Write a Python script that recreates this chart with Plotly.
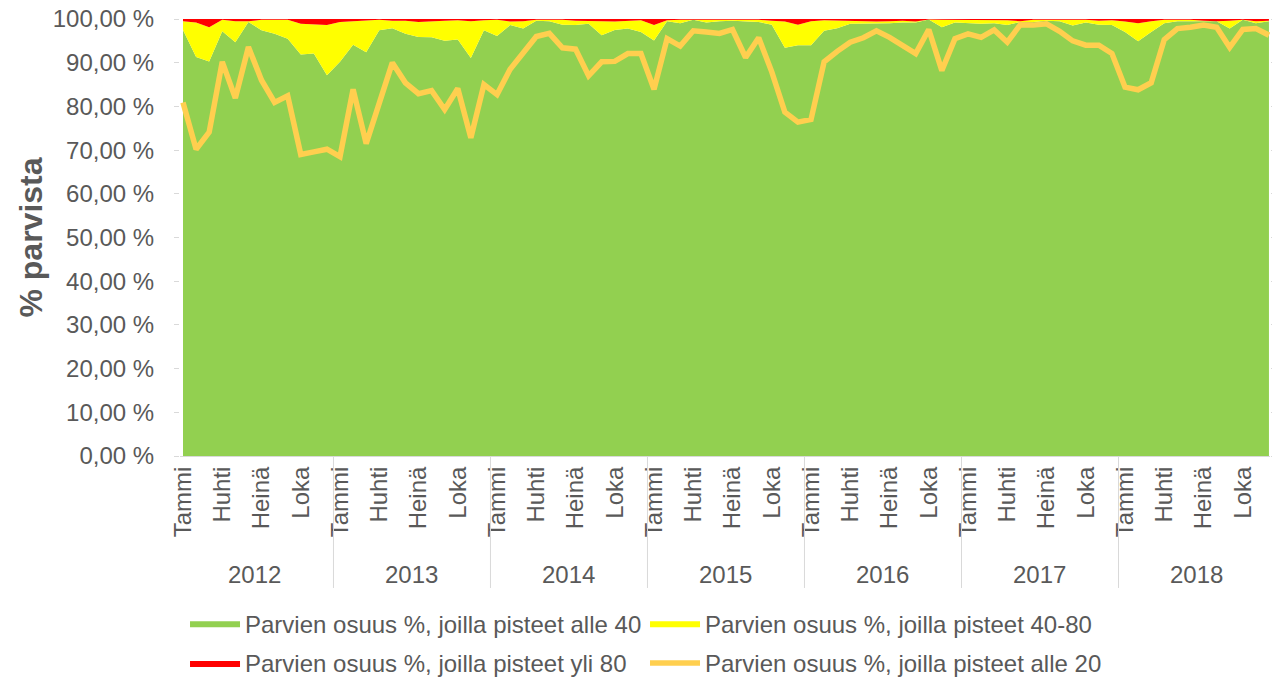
import plotly.graph_objects as go

years = [2012, 2013, 2014, 2015, 2016, 2017, 2018]
month_names = ["Tammi", "Helmi", "Maalis", "Huhti", "Touko", "Kesä",
               "Heinä", "Elo", "Syys", "Loka", "Marras", "Joulu"]
shown_months = ["Tammi", "Huhti", "Heinä", "Loka"]

categories = [f"{y} {m}" for y in years for m in month_names]

alle40 = [97.5, 91.3, 90.3, 97.2, 94.7, 99.3, 97.4, 96.6, 95.5, 91.9, 92.1, 87.1,
          90.2, 94.1, 92.4, 97.4, 97.9, 96.6, 95.9, 95.8, 95.0, 95.3, 91.1, 97.4,
          96.1, 98.6, 97.8, 99.6, 99.5, 98.7, 98.6, 98.9, 96.3, 97.5, 97.8, 97.0,
          95.1, 99.5, 99.0, 99.8, 99.2, 99.5, 99.6, 99.5, 99.3, 98.7, 93.4, 94.0,
          94.0, 97.3, 97.9, 98.9, 98.9, 98.9, 99.0, 99.2, 99.2, 99.9, 98.1, 99.2,
          99.0, 98.9, 99.0, 98.6, 99.3, 99.3, 99.6, 99.5, 98.5, 99.2, 98.7, 98.6,
          97.0, 94.9, 97.0, 99.0, 99.5, 99.5, 99.5, 99.5, 97.8, 99.8, 99.0, 99.5]

v40_80 = [2.0, 7.9, 7.8, 2.6, 4.8, 0.2, 2.4, 3.2, 4.3, 7.0, 6.6, 11.5,
          9.1, 5.4, 7.3, 2.4, 1.7, 3.0, 3.4, 3.7, 4.6, 4.4, 8.4, 2.3,
          3.7, 0.8, 1.7, 0.2, 0.3, 1.1, 1.0, 0.7, 3.2, 1.9, 1.8, 2.7,
          3.5, 0.2, 0.8, 0.0, 0.6, 0.3, 0.2, 0.3, 0.5, 0.9, 6.0, 4.7,
          5.5, 2.4, 1.7, 0.6, 0.6, 0.5, 0.5, 0.4, 0.2, 0.0, 1.7, 0.6,
          0.8, 0.8, 0.8, 1.1, 0.2, 0.5, 0.2, 0.3, 1.3, 0.6, 0.9, 1.1,
          2.4, 4.1, 2.5, 0.8, 0.3, 0.3, 0.1, 0.0, 1.8, 0.0, 0.5, 0.1]

yli80 = [0.5, 0.8, 1.9, 0.2, 0.5, 0.5, 0.2, 0.2, 0.2, 1.1, 1.3, 1.4,
         0.7, 0.5, 0.3, 0.2, 0.4, 0.4, 0.7, 0.5, 0.4, 0.3, 0.5, 0.3,
         0.2, 0.6, 0.5, 0.2, 0.2, 0.2, 0.4, 0.4, 0.5, 0.6, 0.4, 0.3,
         1.4, 0.3, 0.2, 0.2, 0.2, 0.2, 0.2, 0.2, 0.2, 0.4, 0.6, 1.3,
         0.5, 0.3, 0.4, 0.5, 0.5, 0.6, 0.5, 0.4, 0.6, 0.1, 0.2, 0.2,
         0.2, 0.3, 0.2, 0.3, 0.5, 0.2, 0.2, 0.2, 0.2, 0.2, 0.4, 0.3,
         0.6, 1.0, 0.5, 0.2, 0.2, 0.2, 0.4, 0.5, 0.4, 0.2, 0.5, 0.4]

alle20 = [80.9, 70.2, 74.1, 90.2, 81.9, 93.6, 86.0, 80.9, 82.4, 69.0, 69.6, 70.2,
          68.5, 83.9, 71.5, 81.0, 90.0, 85.4, 82.9, 83.6, 79.3, 84.1, 72.8, 85.0,
          82.7, 88.5, 92.3, 96.0, 96.7, 93.4, 93.1, 87.0, 90.2, 90.3, 92.1, 92.1,
          83.9, 95.5, 93.8, 97.3, 97.0, 96.7, 97.6, 91.2, 95.7, 87.9, 78.7, 76.4,
          77.0, 90.2, 92.6, 94.7, 95.7, 97.3, 95.8, 94.0, 92.1, 97.6, 88.2, 95.5,
          96.6, 95.8, 97.5, 94.7, 98.7, 98.6, 98.9, 97.2, 95.0, 94.0, 94.0, 92.1,
          84.4, 83.8, 85.4, 95.3, 97.8, 98.1, 98.6, 98.1, 93.5, 97.6, 97.8, 96.3]

names = ["Parvien osuus %, joilla pisteet alle 40",
         "Parvien osuus %, joilla pisteet 40-80",
         "Parvien osuus %, joilla pisteet yli 80",
         "Parvien osuus %, joilla pisteet alle 20"]

GREEN = "#92D050"
YELLOW = "#FFFF00"
RED = "#FF0000"
LINE = "#FFCF4F"
TXT = "#595959"
AXC = "#D9D9D9"
FONT = "Liberation Sans, Arial, sans-serif"
FS = 24

fig = go.Figure()
for vals, nm, col, lg in [(alle40, names[0], GREEN, "legend"),
                          (v40_80, names[1], YELLOW, "legend"),
                          (yli80, names[2], RED, "legend2")]:
    fig.add_trace(go.Scatter(x=categories, y=vals, name=nm, mode="lines",
                             stackgroup="one", line=dict(width=0, color=col),
                             fillcolor=col, legend=lg))
fig.add_trace(go.Scatter(x=categories, y=alle20, name=names[3], mode="lines",
                         line=dict(color=LINE, width=5.5), yaxis="y2",
                         legend="legend2"))

tickvals = [c for c in categories if c.split(" ")[1] in shown_months]
ticktext = [c.split(" ")[1] for c in tickvals]

shapes = []
for k in range(len(years) + 1):
    xpos = k * 12 - 0.5
    shapes.append(dict(type="line", xref="x", yref="paper", x0=xpos, x1=xpos,
                       y0=0, y1=-0.302, line=dict(color=AXC, width=1)))

annotations = []
for k, yr in enumerate(years):
    annotations.append(dict(x=k * 12 + 5.5, xref="x", y=-0.272, yref="paper",
                            text=str(yr), showarrow=False, yanchor="middle",
                            font=dict(size=FS, color=TXT, family=FONT)))

leg_common = dict(orientation="h", xanchor="left", yanchor="top",
                  entrywidth=395, entrywidthmode="pixels", traceorder="normal",
                  itemwidth=50, font=dict(size=FS, color=TXT, family=FONT),
                  bgcolor="rgba(0,0,0,0)")

fig.update_layout(
    width=1272, height=678,
    margin=dict(l=180, r=2, t=19, b=222, autoexpand=False),
    paper_bgcolor="white", plot_bgcolor="white",
    separators=", ",
    font=dict(family=FONT, size=FS, color=TXT),
    showlegend=True,
    legend=dict(x=0.0046, y=-0.332, **leg_common),
    legend2=dict(x=0.0046, y=-0.423, **leg_common),
    xaxis=dict(type="category", categoryorder="array", categoryarray=categories,
               range=[-0.23, 83.08], tickmode="array", tickvals=tickvals,
               ticktext=ticktext, tickangle=-90, showgrid=False, showline=True,
               linecolor=AXC, linewidth=1, ticks="",
               tickfont=dict(size=FS, color=TXT, family=FONT)),
    yaxis=dict(range=[0, 100], dtick=10, tickformat=".2f", ticksuffix=" %",
               showgrid=False, zeroline=False, showline=False, ticks="outside",
               ticklen=5, tickcolor=AXC, ticklabelstandoff=15,
               ticklabeloverflow="allow",
               tickfont=dict(size=FS, color=TXT, family=FONT),
               title=dict(text="<b>% parvista</b>", standoff=0,
                          font=dict(size=32, color=TXT, family=FONT))),
    yaxis2=dict(range=[0, 100], dtick=10, overlaying="y", side="right",
                showgrid=False, zeroline=False, showticklabels=False,
                ticks="outside", ticklen=5, tickcolor=AXC),
    shapes=shapes, annotations=annotations,
)

fig.write_html("out.html",
               config={"displayModeBar": False},
               post_script="document.body.style.margin='0px';")
